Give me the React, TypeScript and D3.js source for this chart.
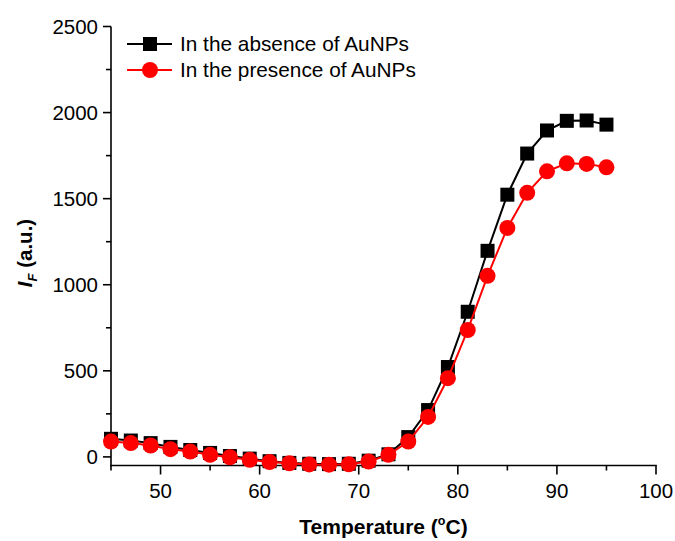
import React from "react";
import * as d3 from "d3";

const temperatures = [45, 47, 49, 51, 53, 55, 57, 59, 61, 63, 65, 67, 69, 71, 73, 75, 77, 79, 81, 83, 85, 87, 89, 91, 93, 95];
const absenceValues = [105, 95, 80, 58, 40, 23, 5, -10, -25, -35, -40, -42, -40, -22, 15, 115, 272, 522, 843, 1197, 1523, 1762, 1896, 1952, 1954, 1930];
const presenceValues = [89, 80, 66, 45, 31, 12, -2, -17, -30, -37, -44, -45, -43, -27, 12, 89, 232, 457, 737, 1052, 1330, 1534, 1659, 1705, 1702, 1682];
const seriesNames = ["In the absence of AuNPs", "In the presence of AuNPs"];
const xMajorTicks = [50, 60, 70, 80, 90, 100];
const xMinorTicks = [45, 55, 65, 75, 85, 95];
const yMajorTicks = [0, 500, 1000, 1500, 2000, 2500];
const yMinorTicks = [250, 750, 1250, 1750, 2250];

const W = 675;
const H = 541;
const FONT = "Arial, 'Liberation Sans', Helvetica, sans-serif";

export default function App() {
  const x = d3.scaleLinear().domain([45, 100]).range([111, 656]);
  const y = d3.scaleLinear().domain([-50, 2500]).range([465.5, 26.5]);

  const lineGen = (vals: number[]) =>
    d3
      .line<number>()
      .x((_, i) => x(temperatures[i]))
      .y((v) => y(v))(vals) as string;

  const x0 = x.range()[0];
  const x1 = x.range()[1];
  const yb = y.range()[0];
  const yt = y.range()[1];

  const sq = 14;
  const r = 8;

  return (
    <svg
      width={W}
      height={H}
      style={{ position: "absolute", left: 0, top: 0, background: "#fff" }}
      fontFamily={FONT}
    >
      <rect x={0} y={0} width={W} height={H} fill="#fff" />
      {/* axes */}
      <line x1={x0} x2={x0} y1={yt} y2={yb + 0.75} stroke="#000" strokeWidth={1.6} />
      <line x1={x0 - 0.75} x2={x1 + 0.8} y1={yb} y2={yb} stroke="#000" strokeWidth={1.6} />
      {xMajorTicks.map((t) => (
        <g key={"xm" + t}>
          <line x1={x(t)} x2={x(t)} y1={yb} y2={yb + 9} stroke="#000" strokeWidth={1.6} />
          <text x={x(t)} y={yb + 32} textAnchor="middle" fontSize={20.5} fill="#000">
            {t}
          </text>
        </g>
      ))}
      {xMinorTicks.map((t) => (
        <line key={"xn" + t} x1={x(t)} x2={x(t)} y1={yb} y2={yb + 5} stroke="#000" strokeWidth={1.6} />
      ))}
      {yMajorTicks.map((t) => (
        <g key={"ym" + t}>
          <line x1={x0 - 8} x2={x0} y1={y(t)} y2={y(t)} stroke="#000" strokeWidth={1.6} />
          <text x={x0 - 13} y={y(t)} dy="0.35em" textAnchor="end" fontSize={20.5} fill="#000">
            {t}
          </text>
        </g>
      ))}
      {yMinorTicks.map((t) => (
        <line key={"yn" + t} x1={x0 - 5} x2={x0} y1={y(t)} y2={y(t)} stroke="#000" strokeWidth={1.6} />
      ))}

      {/* axis titles */}
      <text x={(x0 + x1) / 2} y={534} textAnchor="middle" fontSize={21} fontWeight="bold" fill="#000">
        Temperature (<tspan fontSize={12.5} dy={-9}>o</tspan>
        <tspan dy={9}>C)</tspan>
      </text>
      <text
        transform={`translate(32,253) rotate(-90)`}
        textAnchor="middle"
        fontSize={20.5}
        fontWeight="bold"
        fill="#000"
      >
        <tspan fontStyle="italic">I</tspan>
        <tspan fontStyle="italic" fontSize={13} dy={5}>F</tspan>
        <tspan dy={-5}> (a.u.)</tspan>
      </text>

      {/* series: absence */}
      <path d={lineGen(absenceValues)} fill="none" stroke="#000" strokeWidth={2} />
      {absenceValues.map((v, i) => (
        <rect key={"a" + i} x={x(temperatures[i]) - sq / 2} y={y(v) - sq / 2} width={sq} height={sq} fill="#000" />
      ))}
      {/* series: presence */}
      <path d={lineGen(presenceValues)} fill="none" stroke="#ff0000" strokeWidth={2} />
      {presenceValues.map((v, i) => (
        <circle key={"p" + i} cx={x(temperatures[i])} cy={y(v)} r={r} fill="#ff0000" />
      ))}

      {/* legend */}
      <g>
        <line x1={127} x2={172} y1={44} y2={44} stroke="#000" strokeWidth={2} />
        <rect x={150 - sq / 2} y={44 - sq / 2} width={sq} height={sq} fill="#000" />
        <text x={180} y={44} dy="0.35em" fontSize={20.8} fill="#000">
          {seriesNames[0]}
        </text>
        <line x1={127} x2={172} y1={70} y2={70} stroke="#ff0000" strokeWidth={2} />
        <circle cx={150} cy={70} r={r} fill="#ff0000" />
        <text x={180} y={70} dy="0.35em" fontSize={20.8} fill="#000">
          {seriesNames[1]}
        </text>
      </g>
    </svg>
  );
}
